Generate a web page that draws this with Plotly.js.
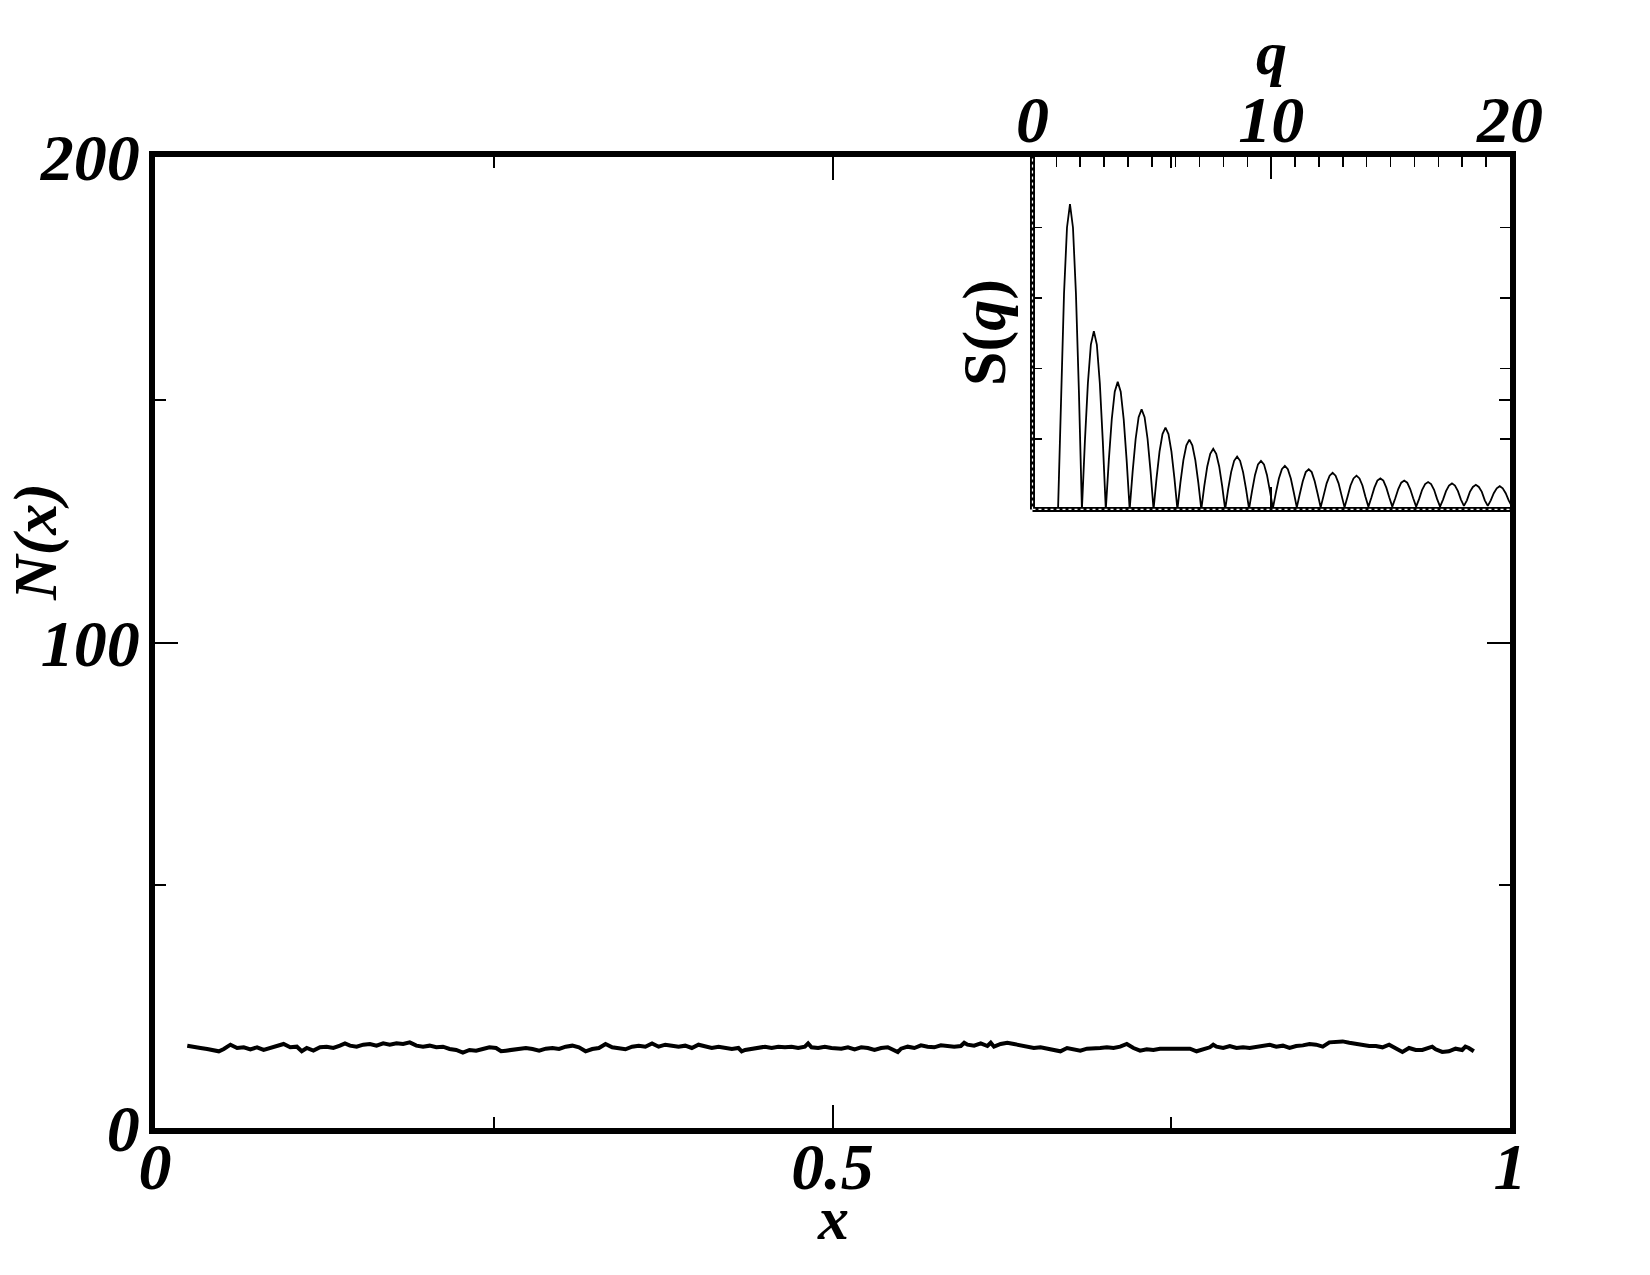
<!DOCTYPE html>
<html>
<head>
<meta charset="utf-8">
<script src="https://cdn.plot.ly/plotly-3.0.1.min.js"></script>
<style>html,body{margin:0;padding:0;background:#fff;}#chart{width:1650px;height:1275px;}</style>
</head>
<body>
<div id="chart"></div>
<script>
// Main panel: N(x) profile
const xN = [0.0238,0.0287,0.0336,0.0385,0.0434,0.0471,0.0508,0.0557,0.0606,0.0655,0.0704,0.0753,0.0802,0.0851,0.0900,0.0949,0.0998,0.1047,0.1083,0.1120,0.1169,0.1218,0.1267,0.1316,0.1365,0.1402,0.1439,0.1488,0.1537,0.1586,0.1635,0.1684,0.1733,0.1782,0.1831,0.1880,0.1929,0.1978,0.2027,0.2076,0.2125,0.2174,0.2223,0.2272,0.2321,0.2370,0.2419,0.2468,0.2517,0.2554,
0.2590,0.2639,0.2688,0.2737,0.2786,0.2835,0.2884,0.2933,0.2982,0.3031,0.3080,0.3129,0.3178,0.3227,0.3276,0.3325,0.3374,0.3423,0.3472,0.3521,0.3570,0.3619,0.3668,0.3717,0.3766,0.3815,0.3864,0.3913,0.3962,0.4011,0.4060,0.4109,0.4159,0.4208,0.4257,0.4306,0.4330,0.4355,0.4404,0.4453,0.4502,0.4551,0.4600,0.4649,0.4698,0.4747,0.4796,0.4820,0.4845,0.4894,0.4943,0.4992,
0.5016,0.5065,0.5114,0.5163,0.5212,0.5261,0.5310,0.5359,0.5408,0.5457,0.5482,0.5506,0.5555,0.5604,0.5653,0.5702,0.5751,0.5800,0.5849,0.5898,0.5947,0.5972,0.5996,0.6045,0.6094,0.6143,0.6168,0.6192,0.6241,0.6290,0.6339,0.6388,0.6437,0.6486,0.6535,0.6584,0.6633,0.6682,0.6731,0.6780,0.6829,0.6878,0.6927,0.6976,0.7025,0.7074,0.7123,0.7172,0.7221,0.7270,0.7319,0.7368,0.7417,
0.7442,0.7491,0.7540,0.7589,0.7638,0.7687,0.7736,0.7785,0.7810,0.7834,0.7883,0.7932,0.7981,0.8030,0.8079,0.8128,0.8177,0.8226,0.8275,0.8324,0.8373,0.8422,0.8471,0.8520,0.8569,0.8618,0.8667,0.8716,0.8765,0.8814,0.8863,0.8912,0.8961,0.9010,0.9059,0.9108,0.9157,0.9206,0.9255,0.9304,0.9353,0.9402,0.9426,0.9451,0.9500,0.9549,0.9598,0.9647,0.9671,0.9696,0.9733];
const yN = [16.96,16.62,16.48,16.27,16.07,15.80,16.27,17.16,16.48,16.62,16.21,16.62,16.07,16.48,16.75,17.30,16.62,16.75,15.80,16.48,15.93,16.62,16.75,16.48,16.96,17.43,16.96,16.75,17.16,17.30,16.96,17.43,17.16,17.43,17.30,17.64,16.96,16.75,16.96,16.62,16.75,16.27,16.07,15.52,16.07,15.93,16.27,16.62,16.48,15.80,
15.93,16.07,16.27,16.48,16.27,15.93,16.34,16.48,16.27,16.75,16.96,16.62,15.80,16.27,16.48,17.30,16.62,16.48,16.21,16.75,16.96,16.75,17.43,16.75,17.16,16.96,16.75,16.96,16.48,17.16,16.75,16.48,16.75,16.48,16.27,16.48,15.80,16.07,16.34,16.62,16.75,16.48,16.75,16.62,16.75,16.48,16.75,17.43,16.62,16.48,16.75,16.48,
16.48,16.34,16.62,16.21,16.62,16.48,16.07,16.48,16.62,16.07,15.66,16.34,16.75,16.48,17.02,16.75,16.62,17.02,16.89,16.75,16.89,17.57,17.16,16.96,17.43,16.89,17.57,16.75,17.30,17.57,17.30,16.96,16.75,16.48,16.62,16.34,16.21,15.80,16.48,16.21,15.93,16.34,16.34,16.48,16.62,16.48,16.75,17.30,16.48,15.93,16.21,16.07,16.34,
16.34,16.41,16.48,16.48,16.34,15.80,16.21,16.62,17.16,16.75,16.48,16.89,16.48,16.62,16.48,16.75,16.89,17.16,16.75,16.96,16.48,16.89,17.02,17.30,17.16,16.75,17.64,17.71,17.84,17.57,17.30,17.16,16.89,16.89,16.62,17.16,16.48,15.66,16.48,16.07,16.07,16.48,16.75,16.21,15.66,15.80,16.34,16.07,16.75,16.48,15.80];

// Inset: S(q)
const qVals = [1.07,1.195,1.32,1.445,1.57,1.695,1.82,1.945,
2.07,2.195,2.32,2.445,2.57,2.695,2.82,2.945,
3.07,3.195,3.32,3.445,3.57,3.695,3.82,3.945,
4.07,4.195,4.32,4.445,4.57,4.695,4.82,4.945,
5.07,5.195,5.32,5.445,5.57,5.695,5.82,5.945,
6.07,6.195,6.32,6.445,6.57,6.695,6.82,6.945,
7.07,7.195,7.32,7.445,7.57,7.695,7.82,7.945,
8.07,8.195,8.32,8.445,8.57,8.695,8.82,8.945,
9.07,9.195,9.32,9.445,9.57,9.695,9.82,9.945,
10.07,10.195,10.32,10.445,10.57,10.695,10.82,10.945,
11.07,11.195,11.32,11.445,11.57,11.695,11.82,11.945,
12.07,12.195,12.32,12.445,12.57,12.695,12.82,12.945,
13.07,13.195,13.32,13.445,13.57,13.695,13.82,13.945,
14.07,14.195,14.32,14.445,14.57,14.695,14.82,14.945,
15.07,15.195,15.32,15.445,15.57,15.695,15.82,15.945,
16.07,16.195,16.32,16.445,16.57,16.695,16.82,16.945,
17.07,17.195,17.32,17.445,17.57,17.695,17.82,17.945,
18.07,18.195,18.32,18.445,18.57,18.695,18.82,18.945,
19.07,19.195,19.32,19.445,19.57,19.695,19.82,19.945,
20.07];
const sVals = [0,1.66,3.06,4.00,4.33,4.00,3.06,1.66,
0,0.97,1.79,2.34,2.53,2.34,1.79,0.97,
0,0.69,1.28,1.67,1.81,1.67,1.28,0.69,
0,0.54,1.00,1.31,1.42,1.31,1.00,0.54,
0,0.44,0.82,1.07,1.16,1.07,0.82,0.44,
0,0.38,0.70,0.91,0.99,0.91,0.70,0.38,
0,0.33,0.61,0.79,0.86,0.79,0.61,0.33,
0,0.29,0.53,0.69,0.75,0.69,0.53,0.29,
0.01,0.26,0.49,0.64,0.69,0.64,0.49,0.26,
0.02,0.24,0.44,0.57,0.62,0.57,0.44,0.24,
0.03,0.22,0.40,0.53,0.57,0.53,0.40,0.22,
0.03,0.20,0.37,0.48,0.52,0.48,0.37,0.20,
0.03,0.18,0.34,0.44,0.48,0.44,0.34,0.18,
0.04,0.17,0.31,0.41,0.44,0.41,0.31,0.17,
0.04,0.16,0.29,0.38,0.41,0.38,0.29,0.16,
0.04,0.15,0.28,0.36,0.39,0.36,0.28,0.15,
0.04,0.14,0.26,0.34,0.37,0.34,0.26,0.14,
0.05,0.13,0.25,0.32,0.35,0.32,0.25,0.13,
0.05,0.13,0.23,0.30,0.33,0.30,0.23,0.13,
0.05];

const mainXTicks = [0, 0.5, 1];
const mainXLabels = ['0', '0.5', '1'];
const mainYTicks = [0, 100, 200];
const mainYLabels = ['0', '100', '200'];
const insetQTicks = [0, 10, 20];
const insetQLabels = ['0', '10', '20'];
const insetSTicks = [1, 2, 3, 4];

const serif = 'Liberation Serif, Times New Roman, serif';
const tickFont = {family: serif, size: 66, weight: 'bold', style: 'italic', color: '#000'};
const titleFont = {family: serif, size: 62, weight: 'bold', style: 'italic', color: '#000'};

const traces = [
  {x: xN, y: yN, type: 'scatter', mode: 'lines', line: {color: '#000', width: 4}, xaxis: 'x', yaxis: 'y', hoverinfo: 'skip'},
  {x: qVals, y: sVals, type: 'scatter', mode: 'lines', line: {color: '#000', width: 1.8}, xaxis: 'x2', yaxis: 'y2', hoverinfo: 'skip'},
  {x: [], y: [], type: 'scatter', mode: 'lines', xaxis: 'x3', yaxis: 'y2', hoverinfo: 'skip'}
];

const insetX0 = 0.6476, insetY0 = 0.637;

const layout = {
  width: 1650, height: 1275,
  margin: {l: 155, r: 140, t: 157, b: 147, pad: 0},
  paper_bgcolor: '#fff', plot_bgcolor: 'rgba(0,0,0,0)',
  showlegend: false,
  xaxis: {
    domain: [0, 1], range: [0, 1], tickmode: 'array', tickvals: mainXTicks, ticktext: mainXLabels,
    ticks: 'inside', ticklen: 23, tickwidth: 2, tickcolor: '#000',
    showline: true, linewidth: 6, linecolor: '#000', mirror: 'ticks',
    showgrid: false, zeroline: false, tickfont: tickFont, ticklabelstandoff: -24,
    minor: {dtick: 0.25, ticks: 'inside', ticklen: 11, tickwidth: 2, tickcolor: '#000', showgrid: false}
  },
  yaxis: {
    domain: [0, 1], range: [0, 200], tickmode: 'array', tickvals: mainYTicks, ticktext: mainYLabels,
    ticks: 'inside', ticklen: 23, tickwidth: 2, tickcolor: '#000',
    showline: true, linewidth: 6, linecolor: '#000', mirror: 'ticks',
    showgrid: false, zeroline: false, tickfont: tickFont, ticklabelstandoff: -4,
    minor: {dtick: 50, ticks: 'inside', ticklen: 11, tickwidth: 2, tickcolor: '#000', showgrid: false}
  },
  xaxis2: {
    domain: [insetX0, 1], anchor: 'y2', side: 'top', range: [0, 20],
    tickmode: 'array', tickvals: insetQTicks, ticktext: insetQLabels,
    ticks: 'inside', ticklen: 22, tickwidth: 1.5, tickcolor: '#000',
    showline: false, showgrid: false, zeroline: false, tickfont: tickFont, ticklabelstandoff: 1,
    minor: {dtick: 1, ticks: 'inside', ticklen: 10, tickwidth: 1.5, tickcolor: '#000', showgrid: false}
  },
  xaxis3: {
    overlaying: 'x2', anchor: 'y2', side: 'bottom', range: [0, 20],
    tickmode: 'array', tickvals: [10], ticks: 'inside', ticklen: 22, tickwidth: 1.5, tickcolor: '#000',
    showticklabels: false, showline: false, showgrid: false, zeroline: false
  },
  yaxis2: {
    domain: [insetY0, 1], anchor: 'x2', range: [0, 5],
    tickmode: 'array', tickvals: insetSTicks, ticks: 'inside', ticklen: 10, tickwidth: 1.5, tickcolor: '#000',
    mirror: 'ticks', showline: false, showticklabels: false, showgrid: false, zeroline: false
  },
  shapes: [
    {type: 'line', xref: 'x2 domain', yref: 'y2 domain', x0: 0, x1: 0, y0: 0, y1: 1, line: {color: '#000', width: 5}},
    {type: 'line', xref: 'x2 domain', yref: 'y2 domain', x0: 0, x1: 1, y0: 0, y1: 0, line: {color: '#000', width: 5}},
    {type: 'line', xref: 'x2 domain', yref: 'y2 domain', x0: 0, x1: 0, y0: 0, y1: 1, line: {color: '#fff', width: 1.2, dash: 'dot'}},
    {type: 'line', xref: 'x2 domain', yref: 'y2 domain', x0: 0, x1: 1, y0: 0, y1: 0, line: {color: '#fff', width: 1.2, dash: 'dot'}}
  ],
  annotations: [
    {text: 'x', xref: 'paper', yref: 'paper', x: 0.5, y: -0.0925, xanchor: 'center', yanchor: 'middle', showarrow: false, font: titleFont},
    {text: 'N(x)', xref: 'paper', yref: 'paper', x: -0.0885, y: 0.6035, xanchor: 'center', yanchor: 'middle', showarrow: false, textangle: -90, font: titleFont},
    {text: 'q', xref: 'paper', yref: 'paper', x: 0.824, y: 1.107, xanchor: 'center', yanchor: 'middle', showarrow: false, font: titleFont},
    {text: 'S(<i>q</i>)', xref: 'paper', yref: 'paper', x: 0.6125, y: 0.8198, xanchor: 'center', yanchor: 'middle', showarrow: false, textangle: -90,
     font: {family: serif, size: 62, weight: 'bold', style: 'normal', color: '#000'}}
  ]
};

Plotly.newPlot('chart', traces, layout, {displayModeBar: false, staticPlot: true});
</script>
</body>
</html>
